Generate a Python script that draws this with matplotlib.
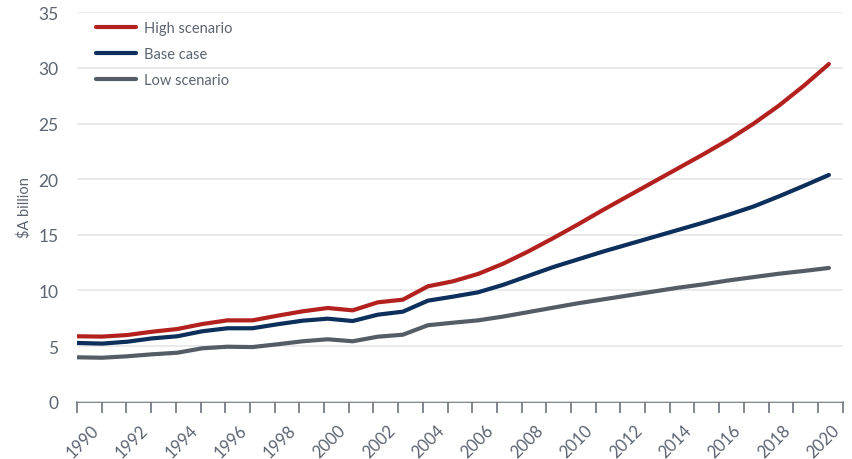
import numpy as np
import matplotlib.pyplot as plt

# annual values, $A billion
years = np.arange(1989, 2020)
high = [5.88, 5.85, 5.99, 6.29, 6.53, 6.98, 7.31, 7.31, 7.73, 8.12, 8.42, 8.21, 8.93, 9.17,
        10.37, 10.82, 11.48, 12.4, 13.5, 14.7, 15.95, 17.25, 18.5, 19.75, 21.0, 22.25, 23.55,
        25.0, 26.6, 28.4, 30.35]
base = [5.28, 5.22, 5.39, 5.69, 5.88, 6.33, 6.6, 6.6, 6.96, 7.28, 7.46, 7.25, 7.82, 8.09,
        9.08, 9.44, 9.83, 10.5, 11.3, 12.1, 12.8, 13.5, 14.15, 14.8, 15.45, 16.1, 16.8,
        17.55, 18.45, 19.4, 20.38]
low = [3.99, 3.95, 4.08, 4.26, 4.4, 4.8, 4.94, 4.91, 5.16, 5.43, 5.61, 5.43, 5.84, 6.02,
       6.87, 7.1, 7.31, 7.65, 8.05, 8.45, 8.85, 9.2, 9.55, 9.9, 10.25, 10.55, 10.9, 11.2,
       11.5, 11.75, 12.02]
series = [high, base, low]
names = ["High scenario", "Base case", "Low scenario"]
colors = ["#b3211e", "#0c2f5b", "#545d66"]

axis_years = np.arange(1989, 2021)
text_col = "#5b6470"
grid_col = "#e6e6e6"

plt.rcParams["font.family"] = ["Lato", "DejaVu Sans"]

fig = plt.figure(figsize=(8.53, 4.6), dpi=100)
ax = fig.add_axes([0.0903, 0.1246, 0.8976, 0.8465])

for vals, name, col in zip(series, names, colors):
    ax.plot(years, vals, color=col, lw=3, label=name,
            solid_capstyle="round", solid_joinstyle="round")

ax.set_ylim(0, 35)
ax.set_yticks(np.arange(0, 36, 5))
x_end = 2019.55
ax.set_xlim(years[0], x_end)
ax.grid(axis="y", color=grid_col, lw=1.2)
ax.set_axisbelow(True)
for s in ax.spines.values():
    s.set_visible(False)
ax.tick_params(axis="x", bottom=False, labelbottom=False)
ax.tick_params(axis="y", left=False, labelsize=12.5, labelcolor=text_col, pad=10)

ax.set_ylabel(r"\$A billion", fontsize=10.5, color=text_col, labelpad=5)

# year scale of the category axis
span = x_end - years[0]


def to_axis(x):
    return axis_years[0] + (x - years[0]) * (len(axis_years) - 1) / span


def to_data(t):
    return years[0] + (t - axis_years[0]) * span / (len(axis_years) - 1)


sec = ax.secondary_xaxis("bottom", functions=(to_axis, to_data))
sec.set_xticks(axis_years, labels=[str(y) if y % 2 == 0 else "" for y in axis_years])
sec.tick_params(axis="x", length=8, width=1.2, color="#6b737c",
                labelsize=12, labelcolor=text_col, pad=6)
sec.spines["bottom"].set_color("#6b737c")
sec.spines["bottom"].set_linewidth(1.2)
for lab in sec.get_xticklabels():
    lab.set_rotation(45)
    lab.set_ha("right")

leg = ax.legend(loc="upper left", bbox_to_anchor=(0.025, 0.978), frameon=False,
                fontsize=10.5, handlelength=2.7, handletextpad=0.6, labelspacing=0.82,
                borderaxespad=0, borderpad=0)
for t in leg.get_texts():
    t.set_color(text_col)

fig.savefig("out.png", dpi=100)
